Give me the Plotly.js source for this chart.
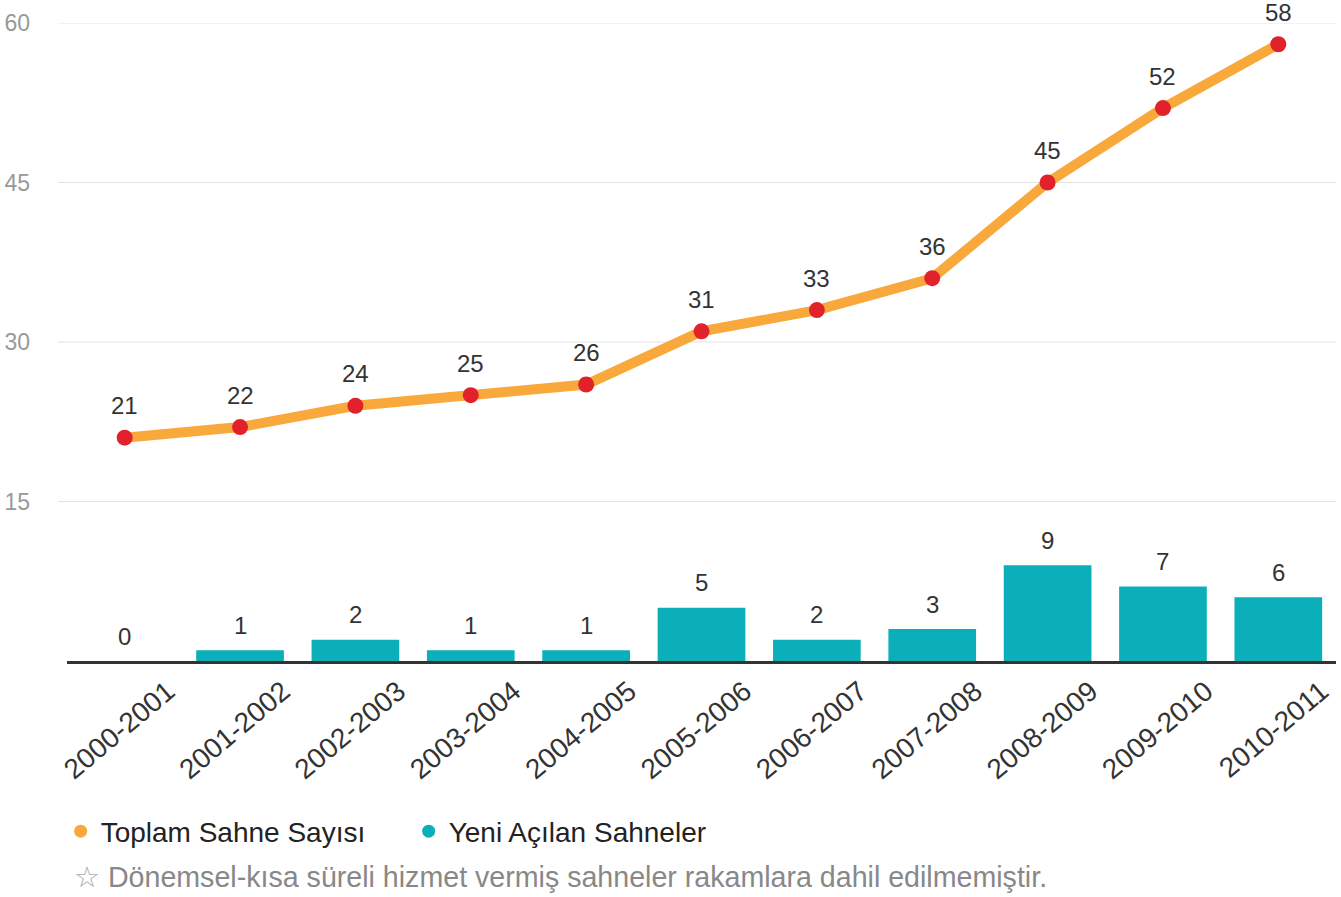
<!DOCTYPE html>
<html>
<head>
<meta charset="utf-8">
<script src="https://cdn.plot.ly/plotly-3.0.1.min.js"></script>
<style>
html,body{margin:0;padding:0;background:#fff;}
#chart{width:1341px;height:897px;}
</style>
</head>
<body>
<div id="chart"></div>
<script>
const seasons = ["2000-2001","2001-2002","2002-2003","2003-2004","2004-2005","2005-2006","2006-2007","2007-2008","2008-2009","2009-2010","2010-2011"];
const totalStages = [21,22,24,25,26,31,33,36,45,52,58];
const newStages = [0,1,2,1,1,5,2,3,9,7,6];
const yTicks = [15,30,45,60];
const legendNames = ["Toplam Sahne Sayısı","Yeni Açılan Sahneler"];
const footnote = "Dönemsel-kısa süreli hizmet vermiş sahneler rakamlara dahil edilmemiştir.";

const FONT = "Liberation Sans, Arial, sans-serif";
const ORANGE = "#F9A93C";
const TEAL = "#0BAFBA";
const RED = "#E2222A";

const traces = [
  {
    type: "bar", x: seasons, y: newStages, marker: {color: TEAL},
    width: 0.76, showlegend: false, hoverinfo: "skip"
  },
  {
    type: "scatter", mode: "lines+markers", x: seasons, y: totalStages,
    line: {color: ORANGE, width: 10},
    marker: {color: RED, size: 16},
    cliponaxis: false, showlegend: false, hoverinfo: "skip"
  },
  {
    type: "scatter", mode: "markers", x: [null], y: [null], name: legendNames[0],
    marker: {color: ORANGE, size: 13}
  },
  {
    type: "scatter", mode: "markers", x: [null], y: [null], name: legendNames[1],
    marker: {color: TEAL, size: 13}
  }
];

const annotations = [];
seasons.forEach((s, i) => {
  annotations.push({x: s, y: totalStages[i], xref: "x", yref: "y", text: String(totalStages[i]),
    showarrow: false, yanchor: "middle", yshift: 32, font: {family: FONT, size: 24, color: "#333"}});
  annotations.push({x: s, y: newStages[i], xref: "x", yref: "y", text: String(newStages[i]),
    showarrow: false, yanchor: "middle", yshift: 25, font: {family: FONT, size: 24, color: "#333"}});
});
annotations.push({
  xref: "paper", yref: "paper", x: 0.004, y: -0.339, xanchor: "left", yanchor: "middle",
  text: "<span style='color:#aaa'>☆</span> " + footnote, showarrow: false,
  font: {family: FONT, size: 28.6, color: "#888"}
});

const shapes = yTicks.map(v => ({
  type: "line", xref: "paper", yref: "y", x0: -0.007, x1: 1, y0: v, y1: v,
  line: {color: "#e3e3e3", width: 1}, layer: "below"
}));

const layout = {
  width: 1341, height: 897,
  margin: {l: 67, r: 5, t: 23, b: 236},
  paper_bgcolor: "#fff", plot_bgcolor: "#fff",
  font: {family: FONT, color: "#333"},
  xaxis: {
    type: "category", range: [-0.5, 10.5],
    tickangle: -40, tickfont: {family: FONT, size: 28, color: "#333"},
    ticks: "", showgrid: false, zeroline: false,
    showline: true, linecolor: "#333", linewidth: 3,
    ticklabelshift: 43, ticklabelstandoff: 0, fixedrange: true
  },
  yaxis: {
    range: [0, 60], tickvals: yTicks, ticktext: yTicks.map(String),
    tickfont: {family: FONT, size: 23, color: "#999"},
    showgrid: false, zeroline: false, showline: false, ticks: "",
    ticklabelstandoff: 36, fixedrange: true
  },
  shapes: shapes,
  showlegend: true,
  legend: {
    orientation: "h", x: -0.005, y: -0.228, xanchor: "left", yanchor: "top",
    font: {family: FONT, size: 28, color: "#222"}, itemwidth: 30, entrywidth: 303
  },
  annotations: annotations
};

Plotly.newPlot("chart", traces, layout, {staticPlot: true, displayModeBar: false});
</script>
</body>
</html>
